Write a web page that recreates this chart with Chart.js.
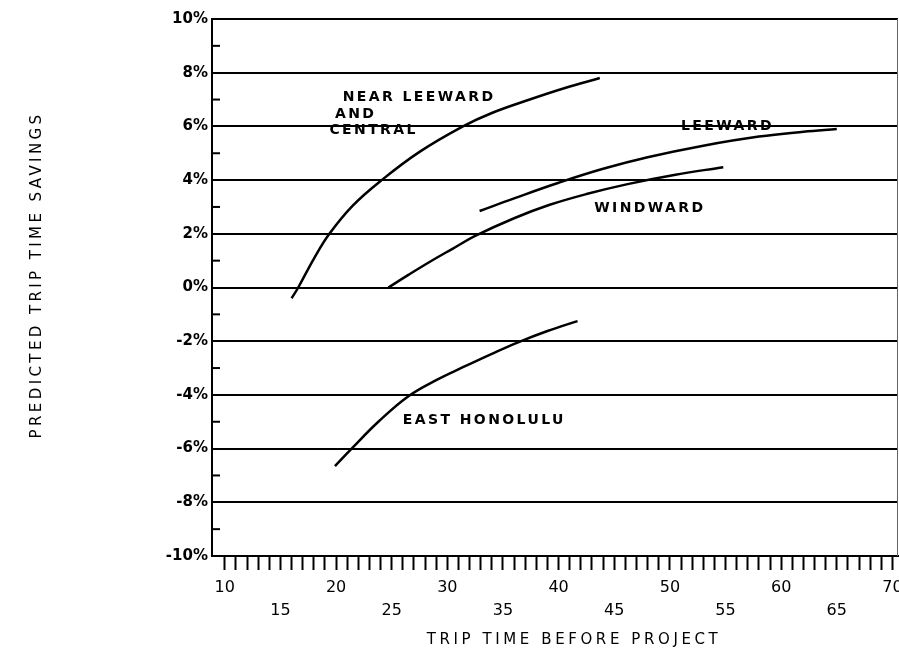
<!doctype html>
<html lang="en">
  <head>
    <meta charset="UTF-8" />
    <title>Predicted Trip Time Savings</title>
    <script src="https://cdn.jsdelivr.net/npm/chart.js"></script>
    <style>
      body {
        margin: 0;
        background: #fff;
      }
      #chart {
        display: block;
      }
    </style>
  </head>
  <body>
    <canvas id="chart" width="899" height="650"></canvas>

    <script>
      // trip time before project (minutes) vs predicted savings (%)
      const nearLeewardX = [16.0, 16.6, 18.0, 19.4, 21.5, 24.1, 27.5, 31.4, 34.0, 37.4, 40.5, 43.7];
      const nearLeewardY = [-0.4, 0.0, 1.07, 2.0, 3.05, 4.0, 5.05, 6.0, 6.5, 7.0, 7.42, 7.8];

      const leewardX = [32.9, 36.0, 40.0, 44.0, 48.0, 53.0, 58.0, 62.0, 65.0];
      const leewardY = [2.85, 3.32, 3.9, 4.42, 4.85, 5.28, 5.62, 5.8, 5.9];

      const windwardX = [24.7, 26.5, 28.4, 30.5, 32.5, 36.0, 39.2, 42.5, 46.2, 50.5, 54.8];
      const windwardY = [0.0, 0.47, 0.95, 1.45, 1.92, 2.58, 3.08, 3.48, 3.85, 4.2, 4.48];

      const eastHonoluluX = [19.9, 21.4, 23.8, 26.5, 29.0, 31.4, 34.0, 36.3, 39.0, 41.7];
      const eastHonoluluY = [-6.65, -6.0, -5.0, -4.05, -3.45, -2.97, -2.47, -2.05, -1.62, -1.25];

      // curve labels and where they sit (data units, left edge / middle)
      const noteText = ["NEAR LEEWARD", "AND", "CENTRAL", "LEEWARD", "WINDWARD", "EAST HONOLULU"];
      const noteX = [20.6, 19.9, 19.4, 51.0, 43.2, 26.0];
      const noteY = [7.08, 6.45, 5.85, 6.0, 2.95, -4.93];

      const xTitle = "TRIP TIME BEFORE PROJECT";
      const yTitle = "PREDICTED TRIP TIME SAVINGS";

      function toPoints(xs, ys) {
        return xs.map((x, i) => ({ x: x, y: ys[i] }));
      }

      function curve(xs, ys) {
        return {
          data: toPoints(xs, ys),
          showLine: true,
          borderColor: "#000",
          borderWidth: 2.5,
          pointRadius: 0,
          tension: 0.4
        };
      }

      // minor ticks, right frame, curve labels and axis titles
      const extras = {
        id: "extras",
        afterDraw(chart) {
          const { ctx, chartArea: a, scales } = chart;
          const x = scales.x;
          const y = scales.y;
          ctx.save();

          ctx.strokeStyle = "#000";
          ctx.lineWidth = 2;
          for (let v = -9; v <= 9; v += 2) {
            const py = y.getPixelForValue(v);
            ctx.beginPath();
            ctx.moveTo(a.left, py);
            ctx.lineTo(a.left + 8, py);
            ctx.stroke();
          }

          ctx.strokeStyle = "#666";
          ctx.lineWidth = 1;
          ctx.beginPath();
          ctx.moveTo(a.right - 0.5, a.top);
          ctx.lineTo(a.right - 0.5, a.bottom);
          ctx.stroke();

          ctx.fillStyle = "#000";
          ctx.font = 'bold 14px "DejaVu Sans"';
          ctx.textAlign = "left";
          ctx.textBaseline = "middle";
          ctx.letterSpacing = "2.4px";
          noteText.forEach((t, i) => {
            ctx.fillText(t, x.getPixelForValue(noteX[i]), y.getPixelForValue(noteY[i]));
          });

          ctx.font = '15px "DejaVu Sans"';
          ctx.letterSpacing = "3.6px";
          ctx.textAlign = "center";
          ctx.fillText(xTitle, 574, 640);

          ctx.letterSpacing = "3.4px";
          ctx.translate(37, 275);
          ctx.rotate(-Math.PI / 2);
          ctx.fillText(yTitle, 0, 0);

          ctx.restore();
        }
      };

      const chart = new Chart(document.getElementById("chart"), {
        type: "scatter",
        data: {
          datasets: [
            curve(nearLeewardX, nearLeewardY),
            curve(leewardX, leewardY),
            curve(windwardX, windwardY),
            curve(eastHonoluluX, eastHonoluluY)
          ]
        },
        options: {
          responsive: false,
          animation: false,
          layout: { padding: { top: 19, right: 1, bottom: 0, left: 0 } },
          plugins: {
            legend: { display: false },
            tooltip: { enabled: false }
          },
          scales: {
            x: {
              type: "linear",
              min: 8.85,
              max: 70.5,
              afterBuildTicks: (scale) => {
                const ticks = [];
                for (let v = 10; v <= 70; v++) ticks.push({ value: v });
                scale.ticks = ticks;
              },
              afterFit: (scale) => {
                scale.height = 94;
                scale.paddingLeft = 0;
                scale.paddingRight = 0;
              },
              grid: {
                drawOnChartArea: false,
                drawTicks: true,
                tickLength: 14,
                tickColor: "#000",
                tickWidth: 2
              },
              border: { display: true, color: "#000", width: 2 },
              ticks: {
                autoSkip: false,
                maxRotation: 0,
                padding: 6,
                color: "#000",
                font: { family: "DejaVu Sans", size: 16, lineHeight: 1.44 },
                callback: (v) => {
                  if (v % 10 === 0) return String(v);
                  if (v % 5 === 0) return ["", String(v)];
                  return "";
                }
              }
            },
            y: {
              min: -10,
              max: 10,
              afterFit: (scale) => {
                scale.width = 212;
              },
              grid: {
                drawTicks: false,
                color: (c) => (c.tick && c.tick.value % 2 === 0 ? "#000" : "rgba(0,0,0,0)"),
                lineWidth: 2
              },
              border: { display: true, color: "#000", width: 2 },
              ticks: {
                stepSize: 1,
                autoSkip: false,
                padding: 4,
                color: "#000",
                font: { family: "DejaVu Sans", size: 15, weight: "bold" },
                callback: (v) => (v % 2 === 0 ? v + "%" : "")
              }
            }
          }
        },
        plugins: [extras]
      });
    </script>
  </body>
</html>
